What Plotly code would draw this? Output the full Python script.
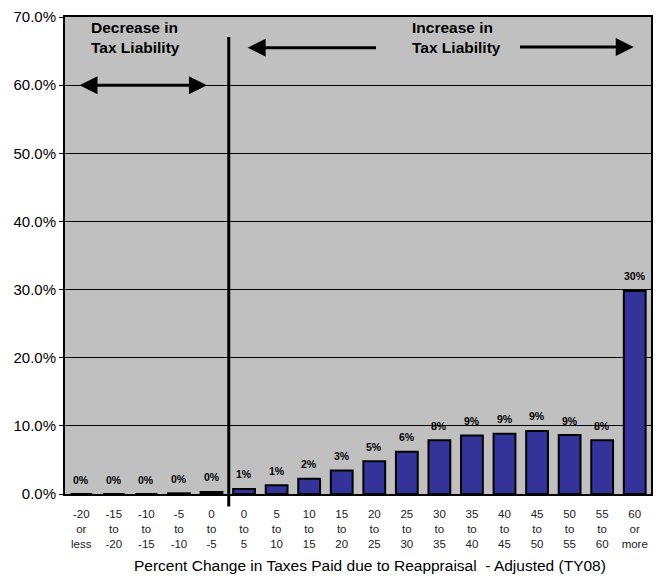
import plotly.graph_objects as go

categories = ["-20<br>or<br>less", "-15<br>to<br>-20", "-10<br>to<br>-15", "-5<br>to<br>-10",
              "0<br>to<br>-5", "0<br>to<br>5", "5<br>to<br>10", "10<br>to<br>15",
              "15<br>to<br>20", "20<br>to<br>25", "25<br>to<br>30", "30<br>to<br>35",
              "35<br>to<br>40", "40<br>to<br>45", "45<br>to<br>50", "50<br>to<br>55",
              "55<br>to<br>60", "60<br>or<br>more"]
values = [0, 0, 0, 0.1, 0.3, 0.75, 1.3, 2.25, 3.45, 4.8, 6.2, 7.9, 8.6, 8.85, 9.25, 8.65, 7.9, 29.8]
value_labels = ["0%", "0%", "0%", "0%", "0%", "1%", "1%", "2%", "3%", "5%", "6%", "8%",
                "9%", "9%", "9%", "9%", "8%", "30%"]
y_ticks = [0, 10, 20, 30, 40, 50, 60, 70]
y_tick_labels = ["0.0%", "10.0%", "20.0%", "30.0%", "40.0%", "50.0%", "60.0%", "70.0%"]
x_title = "Percent Change in Taxes Paid due to Reappraisal  - Adjusted (TY08)"
decrease_text = "Decrease in<br>Tax Liability"
increase_text = "Increase in<br>Tax Liability"

FONT = "Arial, 'Liberation Sans', sans-serif"

fig = go.Figure()
fig.add_trace(go.Bar(
    x=categories, y=values,
    marker=dict(color="#333399", line=dict(color="black", width=2)),
    width=0.67,
    hoverinfo="skip",
))

annotations = []
for c, v, t in zip(categories, values, value_labels):
    annotations.append(dict(x=c, y=v, xref="x", yref="y", text="<b>" + t + "</b>",
                            showarrow=False, yanchor="middle", yshift=14.5,
                            font=dict(family=FONT, size=10.5, color="black")))

# region headings
annotations.append(dict(x=0.24, y=66.95, xref="x", yref="y", text="<b>" + decrease_text + "</b>",
                        showarrow=False, xanchor="left", yanchor="middle", align="left",
                        font=dict(family=FONT, size=15.5, color="black")))
annotations.append(dict(x=10.09, y=66.95, xref="x", yref="y", text="<b>" + increase_text + "</b>",
                        showarrow=False, xanchor="left", yanchor="middle", align="left",
                        font=dict(family=FONT, size=15.5, color="black")))

arrow_common = dict(xref="x", yref="y", axref="x", ayref="y", text="", showarrow=True,
                    arrowhead=2, arrowsize=1.2, arrowwidth=3, arrowcolor="black", standoff=0,
                    startstandoff=0)
# double arrow (decrease)
annotations.append(dict(x=3.86, y=60, ax=-0.1, ay=60, arrowside="end+start",
                        startarrowhead=2, startarrowsize=1.2, **arrow_common))
# left arrow (increase)
annotations.append(dict(x=5.11, y=65.5, ax=9.1, ay=65.5, **arrow_common))
# right arrow (increase)
annotations.append(dict(x=16.97, y=65.6, ax=13.43, ay=65.6, **arrow_common))

# x-axis title
annotations.append(dict(x=0.521, y=-0.1506, xref="paper", yref="paper", text=x_title,
                        showarrow=False, xanchor="center", yanchor="middle",
                        font=dict(family=FONT, size=15.5, color="black")))

fig.update_layout(
    width=661, height=580,
    margin=dict(l=65, r=8, t=13, b=86),
    paper_bgcolor="white",
    plot_bgcolor="#C0C0C0",
    showlegend=False,
    bargap=0.33,
    annotations=annotations,
    shapes=[dict(type="line", xref="x", yref="paper", x0=4.53, x1=4.53, y0=-0.026, y1=0.958,
                 line=dict(color="black", width=3))],
    font=dict(family=FONT, color="black"),
)
fig.update_xaxes(
    type="category", range=[-0.5, 17.5],
    showline=True, linecolor="black", linewidth=2, mirror=True,
    ticks="", showgrid=False,
    tickfont=dict(family=FONT, size=11.5, color="#222222"),
    ticklabelstandoff=8,
)
fig.update_yaxes(
    range=[0, 70], tickvals=y_ticks, ticktext=y_tick_labels,
    showline=True, linecolor="black", linewidth=2, mirror=True,
    ticks="outside", ticklen=4, tickcolor="black", tickwidth=1,
    showgrid=True, gridcolor="black", gridwidth=1, zeroline=False,
    tickfont=dict(family=FONT, size=15, color="black"),
)

fig.write_html("out.html")
